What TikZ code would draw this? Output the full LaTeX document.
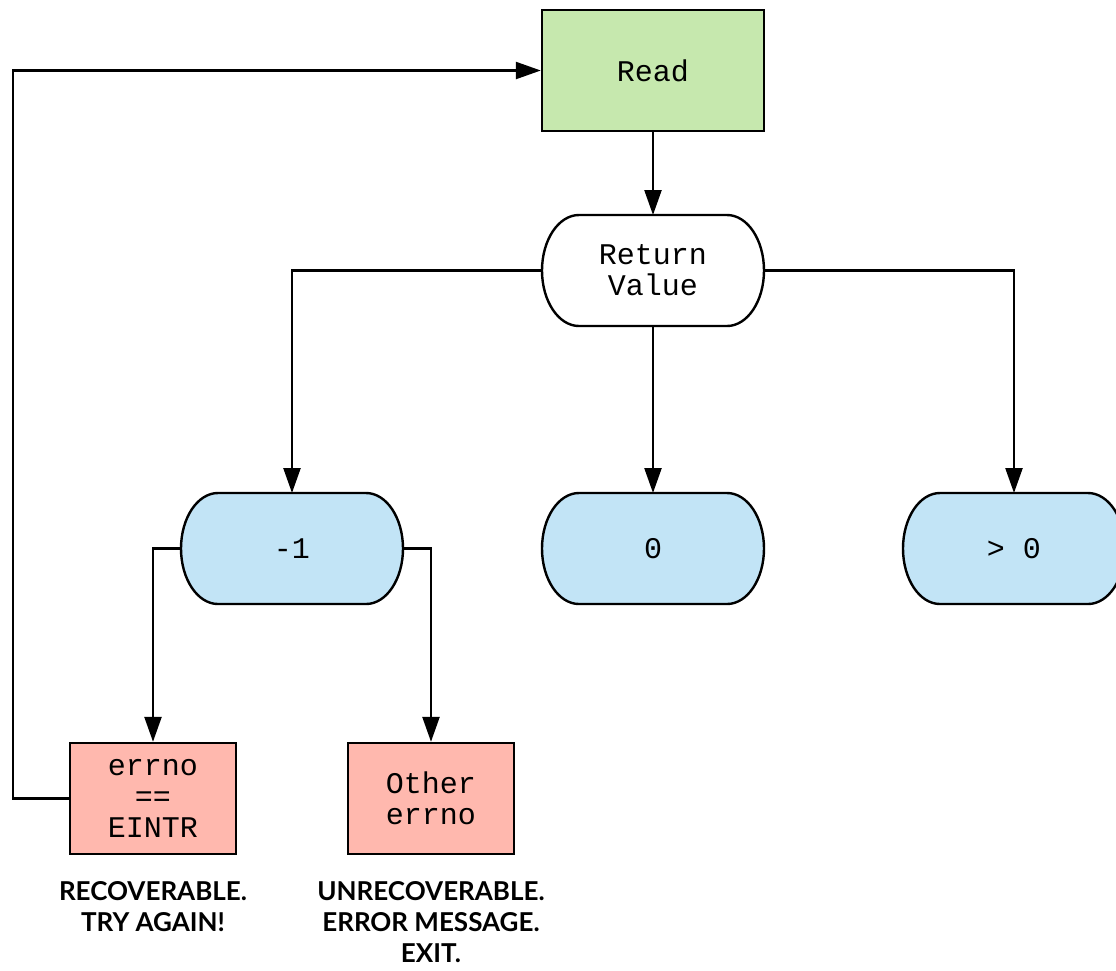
\documentclass[tikz,border=0pt]{standalone}
\usepackage{fontspec}
\setmonofont{Liberation Mono}
\newfontfamily\handfont{Lato}
\usetikzlibrary{arrows.meta}
\definecolor{readgreen}{HTML}{C6E8AE}
\definecolor{valblue}{HTML}{C2E4F6}
\definecolor{errpink}{HTML}{FFB8AE}
\tikzset{
  lbl/.style={font=\ttfamily\fontsize{15}{15.5}\selectfont, align=center, text=black},
  boxnode/.style={lbl, draw=black, line width=1.2pt, inner sep=0pt},
  stadnode/.style={lbl, draw=none, inner sep=0pt, outer sep=0pt, minimum width=111pt, minimum height=55.5pt},
  stadline/.style={draw=black, line width=1.2pt},
  conn/.style={draw=black, line width=1.2pt},
  arr/.style={conn, -{Triangle[length=12.5pt,width=8.5pt]}},
  note/.style={font=\handfont\bfseries\fontsize{13}{15.5}\selectfont, align=center}
}
% stadium: name, x, y, fill colour, text
\newcommand\mystad[5]{%
  \filldraw[stadline, fill=#4] (#2-111+37,#3-55.5) -- (#2+111-37,#3-55.5)
    arc[start angle=90, end angle=-90, x radius=18.5pt, y radius=27.75pt]
    -- (#2-111+37,#3+55.5)
    arc[start angle=270, end angle=90, x radius=18.5pt, y radius=27.75pt] -- cycle;
  \node[stadnode] (#1) at (#2,#3) {#5};
}
\begin{document}
\begin{tikzpicture}[x=0.5pt, y=-0.5pt]
\useasboundingbox[fill=white] (0,0) rectangle (1116,971);

\node[boxnode, fill=readgreen, minimum width=111pt, minimum height=60.5pt] (read) at (653,70.5) {Read};
\mystad{ret}{653}{270.5}{white}{Return\\Value}
\mystad{m1}{292}{548.5}{valblue}{-1}
\mystad{zero}{653}{548.5}{valblue}{0}
\mystad{gt}{1014}{548.5}{valblue}{> 0}
\node[boxnode, fill=errpink, minimum width=83pt, minimum height=55.5pt] (eintr) at (153,798.5) {errno\\==\\EINTR};
\node[boxnode, fill=errpink, minimum width=83pt, minimum height=55.5pt] (other) at (431,798.5) {Other\\errno};

\node[note] (recov) at (153,907) {RECOVERABLE.\\TRY AGAIN!};
\node[note] (unrecov) at (431,922) {UNRECOVERABLE.\\ERROR MESSAGE.\\EXIT.};

\coordinate (loop) at (13,798.5);

\draw[arr] (read) -- (ret);
\draw[arr] (ret.west) -| (m1.north);
\draw[arr] (ret) -- (zero);
\draw[arr] (ret.east) -| (gt.north);
\draw[arr] (m1.west) -| (eintr.north);
\draw[arr] (m1.east) -| (other.north);
\draw[arr] (eintr.west) -- (loop) |- (read.west);
\end{tikzpicture}
\end{document}
